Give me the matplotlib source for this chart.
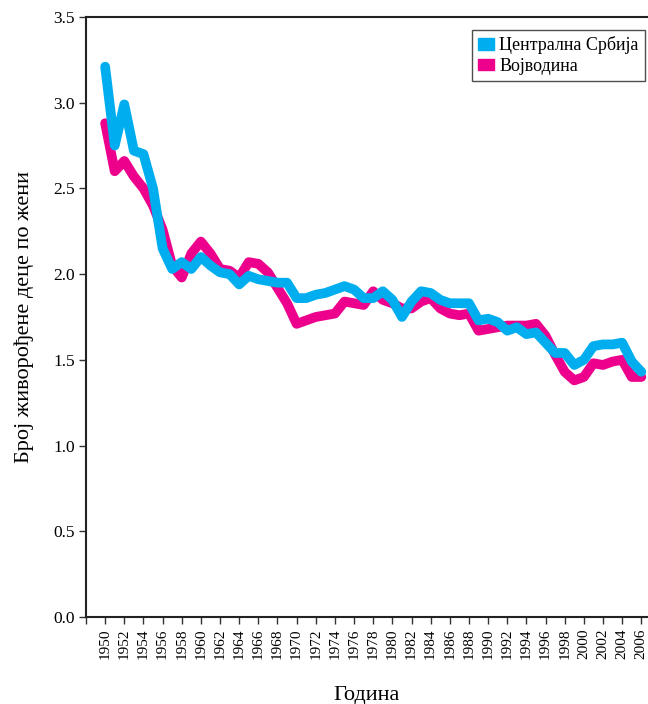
import matplotlib
matplotlib.use('Agg')
import matplotlib.pyplot as plt
from matplotlib.patches import Patch

years = list(range(1950, 2007))

central_serbia = [3.21, 2.75, 2.99, 2.72, 2.70, 2.50, 2.15, 2.03, 2.07, 2.03,
                  2.10, 2.05, 2.01, 2.00, 1.94, 1.99, 1.97, 1.96, 1.95, 1.95,
                  1.86, 1.86, 1.88, 1.89, 1.91, 1.93, 1.91, 1.86, 1.86, 1.90,
                  1.85, 1.75, 1.84, 1.90, 1.89, 1.85, 1.83, 1.83, 1.83, 1.73,
                  1.74, 1.72, 1.67, 1.69, 1.65, 1.66, 1.60, 1.54, 1.54, 1.47,
                  1.50, 1.58, 1.59, 1.59, 1.60, 1.49, 1.43]

vojvodina = [2.88, 2.60, 2.66, 2.57, 2.50, 2.40, 2.26, 2.05, 1.98, 2.12,
             2.19, 2.12, 2.03, 2.02, 1.98, 2.07, 2.06, 2.01, 1.92, 1.83,
             1.71, 1.73, 1.75, 1.76, 1.77, 1.84, 1.83, 1.82, 1.90, 1.85,
             1.83, 1.80, 1.80, 1.84, 1.86, 1.80, 1.77, 1.76, 1.77, 1.67,
             1.68, 1.69, 1.70, 1.70, 1.70, 1.71, 1.64, 1.53, 1.43, 1.38,
             1.40, 1.48, 1.47, 1.49, 1.50, 1.40, 1.40]

labels = ['Централна Србија', 'Војводина']
colors = ['#00AEEF', '#EC008C']

plt.rcParams['font.family'] = ['Liberation Serif', 'DejaVu Serif']

fig = plt.figure(figsize=(6.48, 7.04), dpi=100)
ax = fig.add_axes([0.1327, 0.1236, 0.8673, 0.8523])

ax.plot(years, vojvodina, color=colors[1], lw=7, solid_joinstyle='round',
        solid_capstyle='round', label=labels[1], zorder=2)
ax.plot(years, central_serbia, color=colors[0], lw=7, solid_joinstyle='round',
        solid_capstyle='round', label=labels[0], zorder=3)

ax.set_xlim(1948, 2006.7)
ax.set_ylim(0, 3.5)
xt = list(range(1948, 2007, 2))
ax.set_xticks(xt)
ax.set_xticklabels(['' if y == 1948 else str(y) for y in xt], rotation=90, fontsize=11)
ax.set_yticks([0, 0.5, 1.0, 1.5, 2.0, 2.5, 3.0, 3.5])
ax.set_yticklabels(['0.0', '0.5', '1.0', '1.5', '2.0', '2.5', '3.0', '3.5'], fontsize=12.5)
ax.tick_params(direction='out', length=5, width=1, color='#333333', pad=3)

for s in ['left', 'bottom', 'top']:
    ax.spines[s].set_linewidth(1.5)
    ax.spines[s].set_color('#222222')
ax.spines['right'].set_visible(False)

ax.set_ylabel('Број живорођене деце по жени', fontsize=16, labelpad=14)
ax.set_xlabel('Година', fontsize=16, labelpad=20)

handles = [Patch(color=colors[0]), Patch(color=colors[1])]
leg = ax.legend(handles, labels, loc='upper right', bbox_to_anchor=(0.995, 0.978),
                fontsize=13, frameon=True, fancybox=False, handlelength=0.9,
                handleheight=0.6, handletextpad=0.3, borderpad=0.35, labelspacing=0.2,
                borderaxespad=0)
leg.get_frame().set_edgecolor('#222222')
leg.get_frame().set_linewidth(1.0)

fig.savefig('out.png', dpi=100)
